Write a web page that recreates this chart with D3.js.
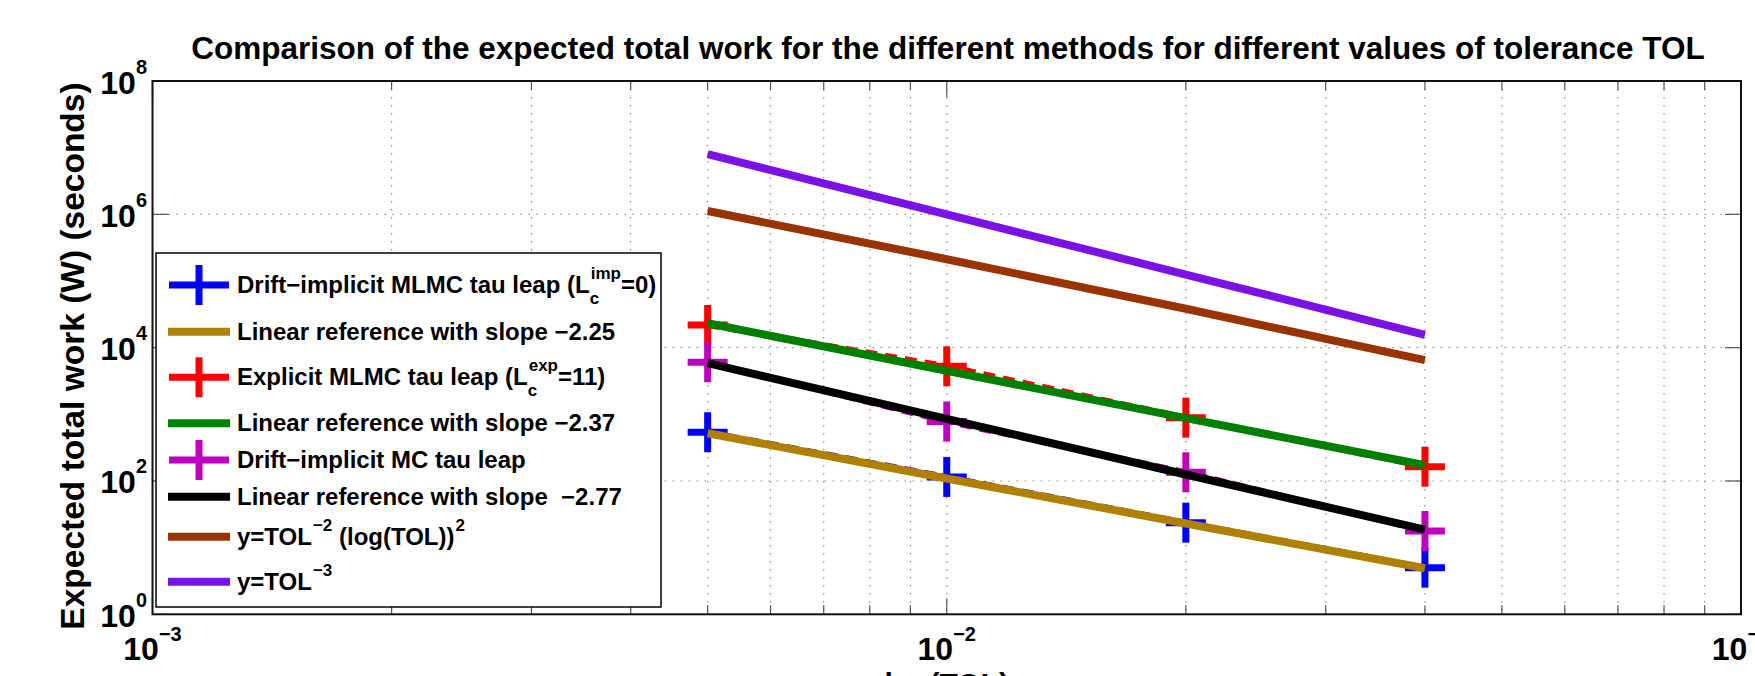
<!DOCTYPE html>
<meta charset="utf-8">
<head>
<script src="https://d3js.org/d3.v7.min.js"></script>
</head>
<style>
  body { margin: 0; background: #fff; }
  svg { font-family: "Liberation Sans", Arial, sans-serif; font-weight: bold; fill: #000; }
  .grid line { stroke: #8c8c8c; stroke-width: 1.2; stroke-dasharray: 1.5,6.5; }
  .tickmark { stroke: #555; stroke-width: 1.2; }
</style>
<body>
<svg id="chart" width="1755" height="676"></svg>
<script>
// tolerance values (x) and the measured / reference work (y)
var tol = [0.005, 0.01, 0.02, 0.04];

var implicitMLMC = [538, 115, 23.7, 5.0];
var ref225       = [520, 109, 23.0, 4.9];
var explicitMLMC = [21900, 5250, 890, 164];
var ref237       = [23200, 4500, 875, 172];
var implicitMC   = [6040, 780, 135, 17.8];
var ref277       = [5840, 855, 125, 18.6];
var tolLogSq     = [1.12e6, 2.12e5, 3.83e4, 6480];
var tolCube      = [8.0e6, 1.0e6, 1.25e5, 15600];

var xTicks = [1e-3, 1e-2, 1e-1];
var xTickExp = ["\u22123", "\u22122", "\u22121"];
var yTicks = [1, 1e2, 1e4, 1e6, 1e8];
var yTickExp = ["0", "2", "4", "6", "8"];

var titleText = "Comparison of the expected total work for the different methods for different values of tolerance TOL";
var yLabel = "Expected total work (W) (seconds)";
var xLabel = "log(TOL)";

// legend labels, split where sub/superscripts go
var labels = [
  [{t: "Drift\u2212implicit MLMC tau leap (L"}, {sub: "c", sup: "imp"}, {t: "=0)"}],
  [{t: "Linear reference with slope \u22122.25"}],
  [{t: "Explicit MLMC tau leap (L"}, {sub: "c", sup: "exp"}, {t: "=11)"}],
  [{t: "Linear reference with slope \u22122.37"}],
  [{t: "Drift\u2212implicit MC tau leap"}],
  [{t: "Linear reference with slope  \u22122.77"}],
  [{t: "y=TOL"}, {sup: "\u22122"}, {t: " (log(TOL))"}, {sup: "2"}],
  [{t: "y=TOL"}, {sup: "\u22123"}]
];

var series = [
  {values: implicitMLMC, color: "#0000ff", marker: true},
  {values: ref225,       color: "#b08000", marker: false},
  {values: explicitMLMC, color: "#ff0000", marker: true},
  {values: ref237,       color: "#008000", marker: false},
  {values: implicitMC,   color: "#bf00bf", marker: true},
  {values: ref277,       color: "#000000", marker: false},
  {values: tolLogSq,     color: "#993300", marker: false},
  {values: tolCube,      color: "#7a12e6", marker: false}
];

var plot = {left: 152.5, right: 1741, top: 81, bottom: 614.3};

var svg = d3.select("#chart");

var x = d3.scaleLog().domain([1e-3, 1e-1]).range([plot.left, plot.right]);
var y = d3.scaleLog().domain([1, 1e8]).range([plot.bottom, plot.top]);

// grid
var grid = svg.append("g").attr("class", "grid");
grid.selectAll(".gx").data(x.ticks().filter(function(d) { return d > 1.0001e-3 && d < 0.0999; }))
  .enter().append("line")
  .attr("x1", function(d) { return x(d); }).attr("x2", function(d) { return x(d); })
  .attr("y1", plot.top).attr("y2", plot.bottom);
grid.selectAll(".gy").data(yTicks.slice(1, -1))
  .enter().append("line")
  .attr("x1", plot.left).attr("x2", plot.right)
  .attr("y1", function(d) { return y(d); }).attr("y2", function(d) { return y(d); });

// tick marks, inside the box on all four sides
var ticks = svg.append("g");
x.ticks().forEach(function(d) {
  var major = xTicks.some(function(t) { return Math.abs(t - d) / t < 1e-6; });
  var len = major ? 16 : 9;
  ticks.append("line").attr("class", "tickmark")
    .attr("x1", x(d)).attr("x2", x(d)).attr("y1", plot.bottom).attr("y2", plot.bottom - len);
  ticks.append("line").attr("class", "tickmark")
    .attr("x1", x(d)).attr("x2", x(d)).attr("y1", plot.top).attr("y2", plot.top + len);
});
yTicks.forEach(function(d) {
  ticks.append("line").attr("class", "tickmark")
    .attr("x1", plot.left).attr("x2", plot.left + 16).attr("y1", y(d)).attr("y2", y(d));
  ticks.append("line").attr("class", "tickmark")
    .attr("x1", plot.right).attr("x2", plot.right - 16).attr("y1", y(d)).attr("y2", y(d));
});

// data
var line = d3.line()
  .x(function(d, i) { return x(tol[i]); })
  .y(function(d) { return y(d); });

function drawCross(g, cx, cy, w, h, color) {
  g.append("line").attr("x1", cx - w / 2).attr("x2", cx + w / 2).attr("y1", cy).attr("y2", cy)
    .attr("stroke", color).attr("stroke-width", 7);
  g.append("line").attr("x1", cx).attr("x2", cx).attr("y1", cy - h / 2).attr("y2", cy + h / 2)
    .attr("stroke", color).attr("stroke-width", 7);
}

var dataG = svg.append("g");
series.forEach(function(s) {
  if (s.marker) {
    dataG.append("path")
      .attr("d", line(s.values))
      .attr("fill", "none")
      .attr("stroke", s.color)
      .attr("stroke-width", 6)
      .attr("stroke-dasharray", "12,8");
    s.values.forEach(function(v, i) {
      drawCross(dataG, x(tol[i]), y(v), 40, 40, s.color);
    });
  } else {
    dataG.append("path")
      .attr("d", line(s.values))
      .attr("fill", "none")
      .attr("stroke", s.color)
      .attr("stroke-width", 8);
  }
});

// axes box
svg.append("rect")
  .attr("x", plot.left).attr("y", plot.top)
  .attr("width", plot.right - plot.left).attr("height", plot.bottom - plot.top)
  .attr("fill", "none").attr("stroke", "#111").attr("stroke-width", 2);

// tick labels
xTicks.forEach(function(d, i) {
  var t = svg.append("text").attr("x", x(d)).attr("y", 660)
    .attr("text-anchor", "middle").attr("font-size", 32);
  t.append("tspan").text("10");
  t.append("tspan").attr("dy", -19).attr("font-size", 20).text(xTickExp[i]);
});
yTicks.forEach(function(d, i) {
  var t = svg.append("text").attr("x", 147).attr("y", y(d) + 12.5)
    .attr("text-anchor", "end").attr("font-size", 32);
  t.append("tspan").text("10");
  t.append("tspan").attr("dy", -20).attr("font-size", 20).text(yTickExp[i]);
});

// titles
svg.append("text").attr("x", 948).attr("y", 59)
  .attr("text-anchor", "middle").attr("font-size", 31.5).text(titleText);
svg.append("text")
  .attr("transform", "translate(84,356) rotate(-90)")
  .attr("text-anchor", "middle").attr("font-size", 33.5).text(yLabel);
svg.append("text").attr("x", (plot.left + plot.right) / 2).attr("y", 694)
  .attr("text-anchor", "middle").attr("font-size", 30).text(xLabel);

// legend
var legend = svg.append("g");
legend.append("rect")
  .attr("x", 156).attr("y", 253).attr("width", 505).attr("height", 354)
  .attr("fill", "#fff").attr("stroke", "#000").attr("stroke-width", 1.5);

var rowY = [285, 331.7, 377.3, 423.3, 460, 496.7, 536.7, 581.7];
series.forEach(function(s, i) {
  var cy = rowY[i];
  if (s.marker) {
    drawCross(legend, 199, cy, 60, 40, s.color);
  } else {
    legend.append("line").attr("x1", 168).attr("x2", 230).attr("y1", cy).attr("y2", cy)
      .attr("stroke", s.color).attr("stroke-width", 8);
  }
  var cursor = 237, base = cy + 8;
  labels[i].forEach(function(seg) {
    if (seg.t !== undefined) {
      var t = legend.append("text").attr("x", cursor).attr("y", base)
        .attr("font-size", 24).attr("xml:space", "preserve").style("white-space", "pre").text(seg.t);
      cursor += t.node().getComputedTextLength();
    } else {
      var w = 0;
      if (seg.sup) {
        var a = legend.append("text").attr("x", cursor + 1).attr("y", base - 14)
          .attr("font-size", 17).text(seg.sup);
        w = Math.max(w, a.node().getComputedTextLength() + 1);
      }
      if (seg.sub) {
        var b = legend.append("text").attr("x", cursor).attr("y", base + 11)
          .attr("font-size", 17).text(seg.sub);
        w = Math.max(w, b.node().getComputedTextLength());
      }
      cursor += w;
    }
  });
});
</script>
</body>
